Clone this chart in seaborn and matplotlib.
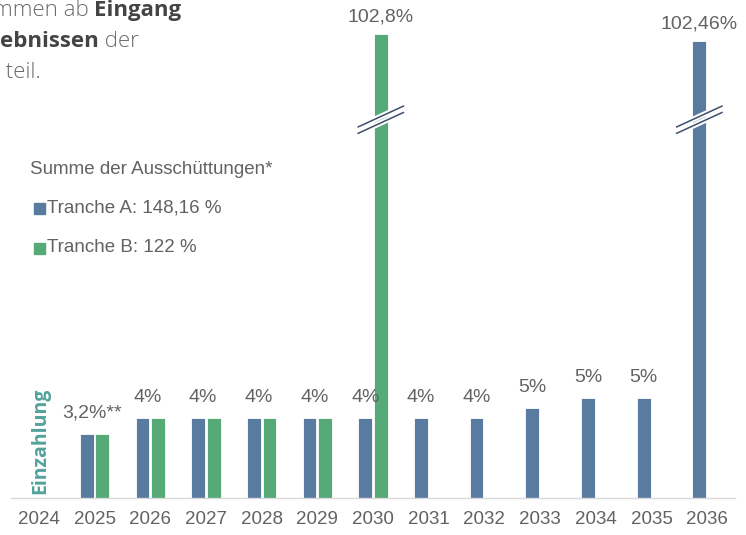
import numpy as np
import pandas as pd
import matplotlib
matplotlib.use('Agg')
import matplotlib.pyplot as plt
import seaborn as sns

# ==================== Daten ====================
years = [2024, 2025, 2026, 2027, 2028, 2029, 2030, 2031, 2032, 2033, 2034, 2035, 2036]
tranche_a = [np.nan, 3.2, 4, 4, 4, 4, 4, 4, 4, 4.5, 5, 5, 102.46]
tranche_b = [np.nan, 3.2, 4, 4, 4, 4, 102.8, np.nan, np.nan, np.nan, np.nan, np.nan, np.nan]
labels_a = ["", "3,2%**", "4%", "4%", "4%", "4%", "4%", "4%", "4%", "5%", "5%", "5%", "102,46%"]
labels_b = ["", "", "", "", "", "", "102,8%", "", "", "", "", "", ""]
legend_title = "Summe der Ausschüttungen*"
legend_a = "Tranche A: 148,16 %"
legend_b = "Tranche B: 122 %"

BLUE = '#5a7ba0'
GREEN = '#55aa78'
GREY = '#626262'
TEAL = '#52a39a'
BREAK_OFFSET = 79.6   # achsenbruch: ausgeblendeter bereich
BREAK_AT = 20


def shown(v):
    """Höhe nach Achsenbruch"""
    if np.isnan(v):
        return np.nan
    return v - BREAK_OFFSET if v > BREAK_AT else v


df = pd.DataFrame({
    'Jahr': [str(y) for y in years] * 2,
    'Tranche': ['A'] * len(years) + ['B'] * len(years),
    'Wert': [shown(v) for v in tranche_a] + [shown(v) for v in tranche_b],
})

sns.set_theme(style='white')
plt.rcParams['font.family'] = ['Liberation Sans', 'DejaVu Sans']

fig = plt.figure(figsize=(7.46, 5.35), dpi=100)
W, H = 746, 535
ax = fig.add_axes([11 / W, 37 / H, 724 / W, 498 / H])

sns.barplot(data=df, x='Jahr', y='Wert', hue='Tranche', order=[str(y) for y in years],
            hue_order=['A', 'B'], palette=[BLUE, GREEN], saturation=1, width=0.56, gap=0.12,
            edgecolor='white', linewidth=0.6, legend=False, ax=ax)

ax.set_ylim(0, 24.9)
ax.set_xlim(-0.5, len(years) - 0.5)
ax.set_xlabel('')
ax.set_ylabel('')
ax.set_yticks([])
for s in ['top', 'right', 'left']:
    ax.spines[s].set_visible(False)
ax.spines['bottom'].set_color('#d9d9d9')
ax.spines['bottom'].set_linewidth(1)
ax.set_xticks(np.arange(-0.5, len(years), 1), minor=True)
ax.tick_params(axis='x', which='major', length=0, pad=9, labelsize=13.5, labelcolor=GREY)
ax.tick_params(axis='x', which='minor', length=5, color='#d9d9d9', width=1, direction='out')
ax.set_facecolor('none')

# Balkenpositionen aus den Containern (A, B)
bars_a = list(ax.containers[0])
bars_b = list(ax.containers[1])


def bar_at(bars, i):
    for p in bars:
        c = p.get_x() + p.get_width() / 2
        h = p.get_height()
        if abs(c - i) < 0.5 and not np.isnan(h) and h > 0:
            return p
    return None


def label(x, y, s):
    ax.text(x, y, s, ha='center', va='bottom', fontsize=14, color=GREY)


for i in range(len(years)):
    pa = bar_at(bars_a, i)
    pb = bar_at(bars_b, i)
    if pa is not None and pb is not None and labels_b[i] == "":
        label(i - 0.05, max(pa.get_height(), pb.get_height()) + 0.6, labels_a[i])
        continue
    for p, lab in [(pa, labels_a[i]), (pb, labels_b[i])]:
        if p is None or lab == "":
            continue
        big = p.get_height() > 15
        cx = p.get_x() + p.get_width() / 2
        label(cx, p.get_height() + (0.4 if big else 0.6), lab)
        if big:
            # Bruchstriche
            for dy in [0, -0.32]:
                ax.plot([cx - 0.41, cx + 0.41], [18.55 + dy, 19.6 + dy], color='white', lw=4,
                        solid_capstyle='butt', zorder=4)
            for dy in [0, -0.32]:
                ax.plot([cx - 0.41, cx + 0.41], [18.55 + dy, 19.6 + dy], color='#3d4f6b', lw=1.1,
                        zorder=5)

# Legende als Text
fig.text(30 / W, 1 - 170 / H, legend_title, fontsize=13.5, color=GREY, va='center')
for yy, col, lab in [(208, BLUE, legend_a), (248, GREEN, legend_b)]:
    fig.patches.append(plt.Rectangle((34 / W, 1 - (yy + 5.5) / H), 11 / W, 11 / H,
                                     transform=fig.transFigure, color=col))
    fig.text(47 / W, 1 - yy / H, lab, fontsize=13.5, color=GREY, va='center')

fig.text(40 / W, 1 - 441 / H, 'Einzahlung', rotation=90, fontsize=14, fontweight='bold',
         family=['Open Sans', 'DejaVu Sans'], color=TEAL, ha='center', va='center')

# abgeschnittener Fließtext oben links
renderer = fig.canvas.get_renderer()
lines = [[('mmen ab ', 'light'), ('Eingang', 'bold')],
         [('ebnissen', 'bold'), (' der', 'light')],
         [(' teil.', 'light')]]
for k, parts in enumerate(lines):
    x = -7 if k == 0 else 0
    y = 1 - (16 + 31 * k) / H
    for txt, wt in parts:
        t = fig.text(x / W, y, txt, fontsize=16, family=['Open Sans', 'DejaVu Sans'],
                     fontweight=wt, color='#444444' if wt == 'bold' else '#6b6b6b',
                     va='baseline')
        x += t.get_window_extent(renderer).width

fig.savefig('out.png', dpi=100)
